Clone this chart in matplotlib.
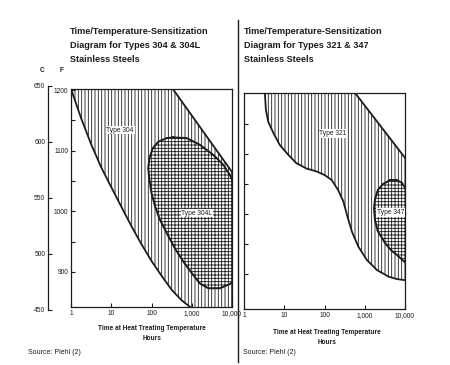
import numpy as np
import matplotlib
matplotlib.use("Agg")
import matplotlib.pyplot as plt
from matplotlib.patches import Polygon
from matplotlib.lines import Line2D
from matplotlib import font_manager as fm

# ---------------- data ----------------
xticks = [1, 10, 100, 1000, 10000]
xtick_labels = ["1", "10", "100", "1,000", "10,000"]
f_major = [900, 1000, 1100, 1200]
f_minor = [950, 1050, 1150]
f_right_ticks = [900, 950, 1000, 1050, 1100, 1150]
c_ticks = [450, 500, 550, 600, 650]

# Type 304 sensitization region (left boundary curve, right diagonal)
t304_lo_h = [1, 1.8, 3.2, 5.6, 10, 18, 32, 56, 100, 180, 320, 560, 910]
t304_lo_f = [1202, 1153, 1110, 1073, 1040, 1007, 975, 946, 918, 893, 870, 853, 842]
t304_hi_h = [340, 10000]
t304_hi_f = [1202, 1065]

# Type 304L closed region
t304L_h = [347, 741, 1585, 3467, 6026, 8913, 14000, 16000, 13000, 8913, 5012, 2570,
           1585, 1000, 617, 380, 240, 162, 123, 100, 89, 83, 89, 107, 148, 240, 347]
t304L_f = [1122, 1121, 1110, 1093, 1077, 1060, 1030, 960, 890, 880, 873, 873,
           881, 898, 917, 939, 964, 986, 1008, 1030, 1052, 1071, 1088, 1104, 1115,
           1121, 1122]

# Type 321 region
t321_lo_h = [3.3, 3.5, 4.0, 5.4, 7.8, 12.6, 20, 36, 65, 102, 151, 219, 295, 372,
             479, 692, 1120, 2000, 3890, 6170, 10000]
t321_lo_f = [1202, 1174, 1154, 1135, 1115, 1099, 1085, 1076, 1071, 1065, 1057, 1040,
             1021, 996, 971, 946, 924, 907, 896, 892, 890]
t321_hi_h = [575, 10000]
t321_hi_f = [1202, 1094]

# Type 347 closed region
t347_h = [4300, 2800, 2100, 1800, 1700, 1800, 2100, 3200, 4500, 6300, 10000, 14000,
          14000, 10000, 8500, 6300, 4300]
t347_f = [1057, 1050, 1040, 1025, 1010, 990, 972, 952, 940, 932, 920, 950,
          1020, 1044, 1052, 1057, 1057]

XMIN, XMAX = 1, 10000
FMIN, FMAX = 842, 1202

# ---------------- fonts ----------------
avail = {f.name for f in fm.fontManager.ttflist}
NARROW = ['Liberation Sans Narrow', 'Liberation Sans', 'DejaVu Sans']
NARROW = [f for f in NARROW if f in avail] or ['DejaVu Sans']
plt.rcParams['font.family'] = NARROW
plt.rcParams['hatch.linewidth'] = 0.6

INK = '#1c1c1c'
W, H = 450, 365
fig = plt.figure(figsize=(W / 100, H / 100), dpi=100, facecolor='white')


def fx(px):
    return px / W


def fy(py):
    return 1 - py / H


def make_axes(x0, x1, ytop, ybot):
    ax = fig.add_axes([fx(x0), fy(ybot), fx(x1) - fx(x0), fy(ytop) - fy(ybot)])
    ax.set_xscale('log')
    ax.set_xlim(XMIN, XMAX)
    ax.set_ylim(FMIN, FMAX)
    ax.set_xticks(xticks)
    ax.set_xticklabels(xtick_labels)
    ax.xaxis.set_minor_locator(matplotlib.ticker.NullLocator())
    for s in ax.spines.values():
        s.set_color(INK)
        s.set_linewidth(0.9)
    ax.tick_params(direction='in', length=3, width=0.8, colors=INK,
                   labelsize=4.8, pad=2)
    ax.tick_params(axis='y', which='minor', direction='in', length=3, width=0.8,
                   colors=INK)
    ax.set_facecolor('white')
    return ax


def fill_region(ax, hx, fy_, hatch):
    p = Polygon(list(zip(hx, fy_)), closed=True, facecolor='white',
                edgecolor=INK, hatch=hatch, lw=0)
    ax.add_patch(p)


# ---------------- left panel ----------------
axL = make_axes(71, 232, 89, 307)
axL.set_yticks(f_major)
axL.set_yticklabels([str(v) for v in f_major])
axL.set_yticks(f_minor, minor=True)

reg304_h = t304_lo_h + [10000] + t304_hi_h[::-1] + [1]
reg304_f = t304_lo_f + [FMIN] + t304_hi_f[::-1] + [FMAX]
fill_region(axL, reg304_h, reg304_f, '|||||')
fill_region(axL, t304L_h, t304L_f, '+++++')
axL.plot(t304_lo_h, t304_lo_f, color=INK, lw=1.3, solid_capstyle='round')
axL.plot(t304_hi_h, t304_hi_f, color=INK, lw=1.3)
axL.plot(t304L_h, t304L_f, color=INK, lw=1.4, solid_joinstyle='round')
box = dict(facecolor='white', edgecolor='none', pad=0.6)
axL.text(16.6, 1134, 'Type 304', fontsize=4.8, ha='center', va='center',
         color=INK, bbox=box)
axL.text(1350, 997, 'Type 304L', fontsize=4.8, ha='center', va='center',
         color=INK, bbox=box)

# Celsius axis
axC = fig.add_axes([fx(48), fy(310), 0.002, fy(86) - fy(310)])
axC.set_ylim(450, 650)
axC.set_yticks(c_ticks)
axC.set_yticklabels([str(v) for v in c_ticks])
axC.set_xticks([])
for k, s in axC.spines.items():
    s.set_visible(k == 'left')
    s.set_color(INK)
    s.set_linewidth(0.9)
axC.patch.set_alpha(0)
axC.tick_params(direction='in', length=3, width=0.8, colors=INK,
                labelsize=4.8, pad=2)

# ---------------- right panel ----------------
axR = make_axes(244, 405, 93, 309)
axR.set_yticks(f_right_ticks)
axR.set_yticklabels([])

reg321_h = t321_lo_h + t321_hi_h[::-1]
reg321_f = t321_lo_f + t321_hi_f[::-1]
fill_region(axR, reg321_h, reg321_f, '|||||')
fill_region(axR, t347_h, t347_f, '+++++')
axR.plot(t321_lo_h, t321_lo_f, color=INK, lw=1.3, solid_joinstyle='round')
axR.plot(t321_hi_h, t321_hi_f, color=INK, lw=1.3)
axR.plot(t347_h, t347_f, color=INK, lw=1.4, solid_joinstyle='round')
axR.text(162, 1135, 'Type 321', fontsize=4.8, ha='center', va='center',
         color=INK, bbox=box)
axR.text(4300, 1003, 'Type 347', fontsize=4.8, ha='center', va='center',
         color=INK, bbox=box)

# ---------------- texts ----------------
title_kw = dict(fontsize=6.6, fontweight='bold', color=INK, ha='left', va='baseline')
left_title = ['Time/Temperature-Sensitization', 'Diagram for Types 304 & 304L',
              'Stainless Steels']
right_title = ['Time/Temperature-Sensitization', 'Diagram for Types 321 & 347',
               'Stainless Steels']
for i, (a, b) in enumerate(zip(left_title, right_title)):
    fig.text(fx(70), fy(34 + 14 * i), a, **title_kw)
    fig.text(fx(244), fy(34 + 14 * i), b, **title_kw)

lab_kw = dict(fontsize=4.7, fontweight='bold', color=INK, ha='center', va='center')
fig.text(fx(152), fy(329), 'Time at Heat Treating Temperature', **lab_kw)
fig.text(fx(152), fy(339), 'Hours', **lab_kw)
fig.text(fx(327), fy(332), 'Time at Heat Treating Temperature', **lab_kw)
fig.text(fx(327), fy(342), 'Hours', **lab_kw)

fig.text(fx(42), fy(71), 'C', **lab_kw)
fig.text(fx(62), fy(71), 'F', **lab_kw)

src_kw = dict(fontsize=5.0, color=INK, ha='left', va='center')
fig.text(fx(28), fy(352), 'Source: Piehl (2)', **src_kw)
fig.text(fx(243), fy(352), 'Source: Piehl (2)', **src_kw)

fig.add_artist(Line2D([fx(238), fx(238)], [fy(20), fy(362)],
                      transform=fig.transFigure, color=INK, lw=1.0))

fig.savefig('out.png', dpi=100, facecolor='white')
